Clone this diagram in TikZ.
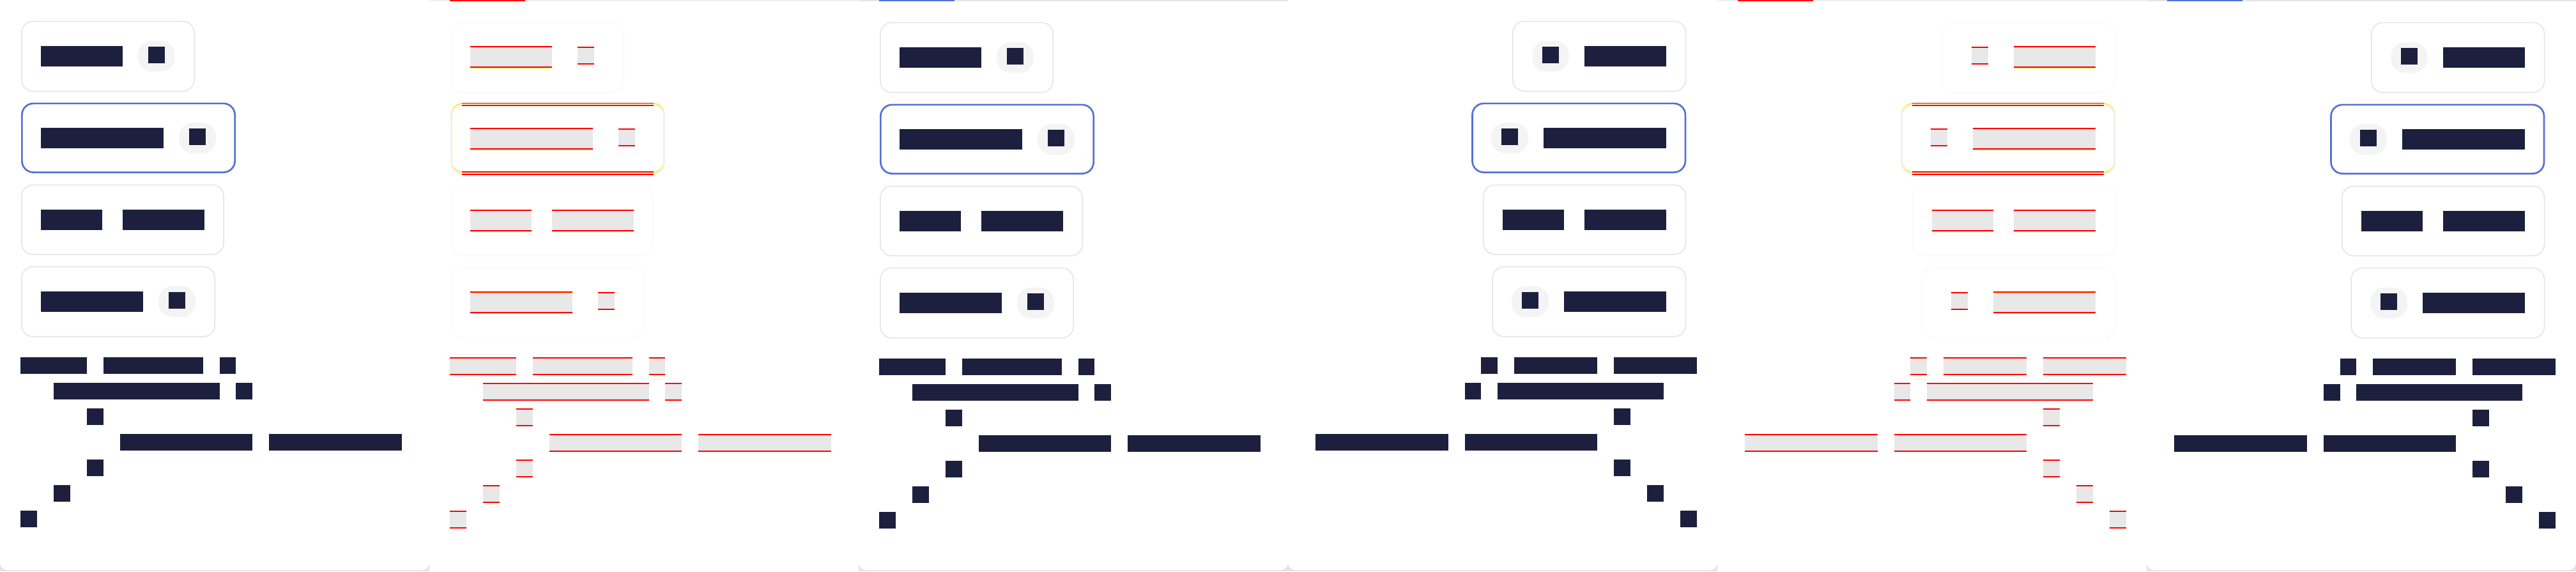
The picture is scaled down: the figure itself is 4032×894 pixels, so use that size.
\documentclass[tikz,border=0pt]{standalone}
\usepackage{xcolor}
\definecolor{ColInk}{RGB}{28,31,61}
\definecolor{ColRim}{RGB}{229,229,229}
\definecolor{ColFocus}{RGB}{85,112,212}
\definecolor{ColChip}{RGB}{244,244,244}
\definecolor{ColPage}{RGB}{229,229,229}
\definecolor{ColSame}{RGB}{232,232,232}
\definecolor{ColFaint}{RGB}{250,250,250}
\definecolor{ColTrack}{RGB}{240,240,240}
\usepackage{tikz}
\newif\ifdiffmode
\tikzstyle{Ink}=[fill=ColInk]
\tikzstyle{CardEdge}=[draw=ColRim,line width=0.16mm,rounded corners=1.8mm]
\tikzstyle{SelEdge}=[draw=ColFocus,line width=0.27mm,rounded corners=1.8mm]
\tikzstyle{Chip}=[fill=ColChip,rounded corners=2.2mm]
\tikzstyle{DiffRed}=[fill=red]
\tikzstyle{DiffYel}=[fill=yellow]
\tikzstyle{DiffSame}=[fill=ColSame]
\tikzstyle{DiffEdge}=[draw=ColFaint,line width=0.16mm,rounded corners=1.8mm]
\tikzstyle{DiffSel}=[draw=ColTrack,line width=0.27mm,rounded corners=1.8mm]
\tikzstyle{DiffRing}=[draw=yellow,line width=0.2mm,rounded corners=1.8mm]
% card frame: x1 x2 y1 y2 (outer edge, px)
\newcommand{\Card}[4]{\ifdiffmode
  \draw[DiffEdge]({#1+0.8},{#3+2.8})rectangle({#2-0.8},{#4+1.2});
  \else
  \draw[CardEdge]({#1+0.8},{#3+0.8})rectangle({#2-0.8},{#4-0.8});
  \fi}
\newcommand{\SelCard}[4]{\ifdiffmode
  \draw[DiffRing]({#1+1.35},{#3+1.35})rectangle({#2-1.35},{#4-1.35});
  \draw[DiffRing]({#1+1.35},{#3+3.35})rectangle({#2-1.35},{#4+0.65});
  \draw[DiffSel]({#1+1.35},{#3+3.35})rectangle({#2-1.35},{#4+0.65});
  \fill[DiffRed]({#1+18},{#3})rectangle({#2-18},{#3+1.7});
  \fill[DiffRed]({#1+18},{#3+3.7})rectangle({#2-18},{#3+5.4});
  \fill[DiffRed]({#1+18},{#4-2.7})rectangle({#2-18},{#4-1});
  \fill[DiffRed]({#1+18},{#4+1})rectangle({#2-18},{#4+2.7});
  \else
  \draw[SelEdge]({#1+1.35},{#3+1.35})rectangle({#2-1.35},{#4-1.35});
  \fi}
\newcommand{\Pill}[4]{\ifdiffmode\else
  \fill[Chip](#1,#3)rectangle(#2,#4);\fi}
% a word of the card labels
\newcommand{\Word}[4]{\ifdiffmode
  \fill[DiffRed]({#1},{#3})rectangle({#2},{#3+1.7});
  \fill[DiffYel]({#1},{#3+1.7})rectangle({#2},{#3+2.7});
  \fill[DiffSame]({#1},{#3+2.7})rectangle({#2},{#4});
  \fill[DiffRed]({#1},{#4})rectangle({#2},{#4+2});
  \fill[DiffYel]({#1},{#4+2})rectangle({#2},{#4+3});
  \else
  \fill[Ink]({#1},{#3})rectangle({#2},{#4});
  \fi}
\newcommand{\Cell}[4]{\ifdiffmode
  \fill[DiffRed]({#1},{#3})rectangle({#2},{#3+2});
  \fill[DiffSame]({#1},{#3+2})rectangle({#2},{#4});
  \fill[DiffRed]({#1},{#4})rectangle({#2},{#4+2});
  \else
  \fill[Ink]({#1},{#3})rectangle({#2},{#4});
  \fi}
% run of monospace cells: column, length, row
\newcommand{\RunL}[3]{\Cell{32.1+#1*25.95}{32.1+(#1+#2)*25.95}{559+#3*40}{585+#3*40}}
\newcommand{\RunR}[3]{\Cell{639.8-(#1+#2)*25.95}{639.8-#1*25.95}{559+#3*40}{585+#3*40}}
\newcommand{\LtrPage}{%
  \Card{33}{305}{32.5}{143.5}
  \Word{63.8}{192}{72}{104}
  \Pill{216}{273.7}{64}{112}
  \Cell{232}{258}{73}{98.7}
  \SelCard{33}{369}{160.5}{271}
  \Word{63.8}{255.8}{200}{232}
  \Pill{280}{338}{192}{240}
  \Cell{296}{322}{201}{226.7}
  \Card{33}{351}{288.5}{399}
  \Word{63.8}{159.8}{328}{360}
  \Word{192}{320}{328}{360}
  \Card{33}{337}{416.5}{527.5}
  \Word{63.8}{224}{456}{488}
  \Pill{248}{306}{448}{496}
  \Cell{264}{290}{457}{483}
  \RunL{0}{4}{0}\RunL{5}{6}{0}\RunL{12}{1}{0}
  \RunL{2}{10}{1}\RunL{13}{1}{1}
  \RunL{4}{1}{2}
  \RunL{6}{8}{3}\RunL{15}{8}{3}
  \RunL{4}{1}{4}
  \RunL{2}{1}{5}
  \RunL{0}{1}{6}}
\newcommand{\RtlPage}{%
  \Card{351}{623.3}{32.5}{143.5}
  \Pill{382.2}{439.4}{64}{112}
  \Cell{397.8}{424.2}{73}{98.7}
  \Word{463.9}{592}{72}{104}
  \SelCard{287.1}{623.3}{160.5}{271}
  \Pill{317.9}{376}{192}{240}
  \Cell{334}{360}{201}{226.7}
  \Word{400.1}{592}{200}{232}
  \Card{305}{623.3}{288.5}{399}
  \Word{335.8}{432.2}{328}{360}
  \Word{463.9}{592}{328}{360}
  \Card{319.3}{623.3}{416.5}{527.5}
  \Pill{350.1}{408.1}{448}{496}
  \Cell{366.1}{392}{457}{483}
  \Word{432.2}{592}{456}{488}
  \RunR{0}{5}{0}\RunR{6}{5}{0}\RunR{12}{1}{0}
  \RunR{2}{10}{1}\RunR{13}{1}{1}
  \RunR{4}{1}{2}
  \RunR{6}{8}{3}\RunR{15}{8}{3}
  \RunR{4}{1}{4}
  \RunR{2}{1}{5}
  \RunR{0}{1}{6}}

\begin{document}
\begin{tikzpicture}[x=0.1mm,y=-0.1mm]
  \useasboundingbox(0,0)rectangle(4032,894);
  \clip(0,0)rectangle(4032,894);
  \fill[ColPage](0,0)rectangle(4032,894);
  % left to right: before, diff, after
  \fill[white,rounded corners=1.2mm](0,-40)rectangle(672,892);
  \begin{scope}\LtrPage\end{scope}
  \fill[white](672,0)rectangle(1344,894);
  \fill[ColTrack](672,0)rectangle(1344,2);
  \fill[DiffRed](704,0)rectangle(822,2);
  \begin{scope}[shift={(672,0)}]\diffmodetrue\LtrPage\end{scope}
  \fill[white,rounded corners=1.2mm](1344,-40)rectangle(2016,892);
  \fill[ColPage](1344,0)rectangle(2016,2);
  \fill[ColFocus](1376,0)rectangle(1494,2);
  \begin{scope}[shift={(1344,2)}]\LtrPage\end{scope}
  % right to left: before, diff, after
  \fill[white,rounded corners=1.2mm](2016,-40)rectangle(2688,892);
  \begin{scope}[shift={(2016,0)}]\RtlPage\end{scope}
  \fill[white](2688,0)rectangle(3360,894);
  \fill[ColTrack](2688,0)rectangle(3360,2);
  \fill[DiffRed](2720,0)rectangle(2838,2);
  \begin{scope}[shift={(2688,0)}]\diffmodetrue\RtlPage\end{scope}
  \fill[white,rounded corners=1.2mm](3360,-40)rectangle(4032,892);
  \fill[ColPage](3360,0)rectangle(4032,2);
  \fill[ColFocus](3392,0)rectangle(3510,2);
  \begin{scope}[shift={(3360,2)}]\RtlPage\end{scope}
\end{tikzpicture}
\end{document}
